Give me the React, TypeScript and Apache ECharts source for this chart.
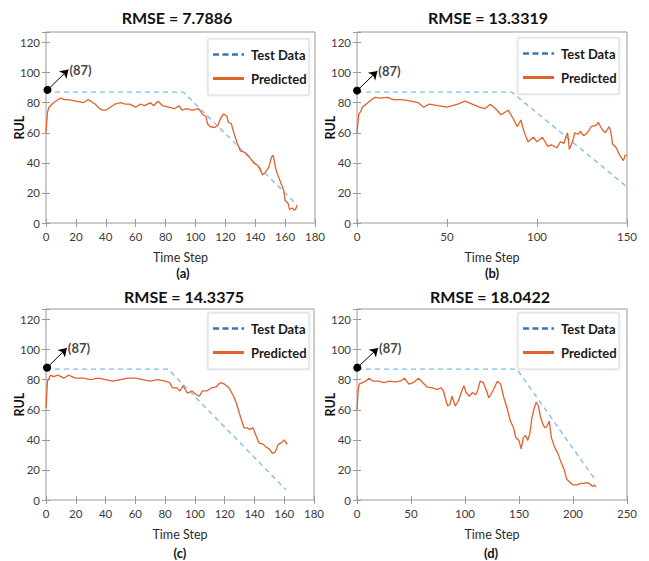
import React, { useEffect, useRef } from "react";
import * as echarts from "echarts";

// ---------- data ----------
const titles = ["RMSE = 7.7886", "RMSE = 13.3319", "RMSE = 14.3375", "RMSE = 18.0422"];
const panelLetters = ["(a)", "(b)", "(c)", "(d)"];
const xMaxes = [180, 150, 180, 250];
const xIntervals = [20, 50, 20, 50];
const yMin = 0;
const yMax = 127;
const yInterval = 20;
const legendNames = ["Test Data", "Predicted"];
const annotationText = "(87)";
const annotationStart = [[1, 88.5], [0, 88], [0.7, 88], [0.3, 88]];
const annotationEnd = [[15, 102], [11.3, 101], [14, 101], [19.5, 101]];

const testA = [[0, 87], [92, 87], [167, 13]];
const testB = [[0, 87], [86, 87], [150, 24]];
const testC = [[0, 87], [82, 87], [161, 7]];
const testD = [[0, 87], [148, 87], [221, 13]];

const predA = [
  [0, 60], [1, 73.6], [2, 77], [5, 80], [8, 82], [10, 83], [12, 82], [15, 82], [20, 81], [25, 80],
  [28, 82], [30, 81], [33, 79], [36, 76], [38, 75], [40, 75], [43, 77], [46, 79], [50, 80], [53, 79],
  [56, 79], [60, 77], [63, 79], [66, 78], [70, 80], [72, 78], [75, 81], [78, 78], [82, 77], [86, 76],
  [89, 78], [91, 75], [94, 76], [98, 75], [102, 76], [105, 72], [107, 71], [108, 66], [110, 64], [113, 63.5],
  [115, 65], [117, 70], [119, 72.5], [121, 71], [122, 67], [124, 66], [126, 59], [128, 53], [130, 48], [133, 47],
  [136, 44], [139, 40], [142, 38], [145, 32], [147, 34], [149, 37], [151, 44], [152, 45], [154, 35], [157, 27],
  [159, 22], [160, 15], [162, 13], [163, 9], [165, 10], [166, 8.5], [167, 9], [168, 12],
];

const predB = [
  [0, 60], [1, 72.5], [2, 74], [3, 77], [5, 79], [8, 82], [10, 83.5], [13, 83], [17, 83.5], [20, 82],
  [25, 82], [30, 81], [34, 80], [37, 77], [40, 79], [45, 78], [50, 77], [53, 78], [56, 79], [60, 81],
  [64, 79], [68, 77], [71, 76], [74, 79], [77, 76], [80, 72], [84, 75], [87, 69], [89, 64], [91, 68.5],
  [93, 60], [95, 54], [98, 57], [100, 54], [103, 57], [106, 51], [108, 52], [111, 50], [113, 54], [115, 53],
  [116, 57], [117, 60], [118, 49], [120, 55], [121, 60], [123, 59], [124, 61], [126, 58], [128, 60], [130, 64],
  [133, 65], [134, 67], [136, 62.5], [138, 60], [140, 64], [141, 61], [142, 52.5], [144, 50], [146, 45], [148, 41.5],
  [149, 45], [150, 45],
];

const predC = [
  [0, 61], [1, 79], [3, 83], [5, 82], [8, 83], [12, 81], [15, 83], [20, 81], [25, 81], [30, 80],
  [35, 81], [40, 80], [45, 79], [50, 80], [55, 81], [60, 81], [65, 80], [70, 79], [75, 80], [80, 79],
  [83, 78], [85, 74.5], [88, 74.5], [90, 72.5], [92, 76], [95, 71], [98, 72.5], [101, 70], [103, 69], [105, 72.5],
  [108, 72.5], [111, 74.5], [114, 75], [117, 78], [120, 77], [123, 74.5], [126, 69], [128, 64], [131, 54], [133, 48],
  [135, 48], [137, 47], [139, 48], [141, 43], [143, 38], [146, 37], [148, 35], [150, 34], [152, 31], [154, 32],
  [156, 37], [158, 38], [160, 40], [162, 37],
];

const predD = [
  [0, 60], [1, 72], [2, 77], [5, 78], [8, 79], [11, 81], [15, 79], [20, 79], [25, 78], [30, 79],
  [35, 78.5], [40, 79], [44, 81], [48, 77], [52, 78], [57, 81], [61, 78], [65, 75], [70, 74.5], [74, 73.5],
  [78, 74.5], [80, 72.5], [82, 67], [84, 62.5], [86, 63.5], [88, 69], [91, 62.5], [94, 66], [97, 72.5], [99, 76],
  [101, 71.5], [104, 69], [107, 71.5], [110, 70], [112, 73.5], [114, 79], [117, 78], [120, 72.5], [122, 68], [125, 71.5],
  [128, 76], [130, 79], [133, 77], [136, 68], [139, 61], [142, 52.5], [145, 48], [147, 41.5], [150, 39.5], [152, 34],
  [154, 41.5], [156, 43], [158, 39.5], [160, 44], [162, 55], [164, 61], [166, 65], [168, 62.5], [170, 55], [172, 50.5],
  [174, 48], [176, 49], [178, 52.5], [180, 41.5], [183, 35], [186, 31], [189, 25], [192, 20], [194, 14], [197, 12],
  [200, 10], [204, 10], [207, 11], [210, 11], [213, 11.5], [216, 10.5], [218, 9], [220, 10], [221, 8.5],
];

const testSeries = [testA, testB, testC, testD];
const predSeries = [predA, predB, predC, predD];

// ---------- layout / style ----------
const layouts = [
  { left: 46, top: 32, width: 269, height: 191, lx: 208, ly: 39, tx: 177, ty: 17, letterX: 183, letterY: 273 },
  { left: 357, top: 32, width: 270, height: 191, lx: 518, ly: 38, tx: 488, ty: 17, letterX: 492, letterY: 273 },
  { left: 46, top: 309, width: 268, height: 191, lx: 208, ly: 313, tx: 184, ty: 296, letterX: 180, letterY: 553 },
  { left: 357, top: 309, width: 270, height: 191, lx: 518, ly: 313, tx: 490, ty: 296, letterX: 491, letterY: 553 },
];

const FONT = 'Lato, "Open Sans", sans-serif';
const AXIS_GRAY = "#9a9a9a";
const LABEL_GRAY = "#3c3c3c";
const ORANGE = "#e0612b";
const LIGHT_BLUE = "#7dbbe8";

export default function App() {
  const ref = useRef<HTMLDivElement>(null);

  useEffect(() => {
    if (!ref.current) return;
    const chart = echarts.init(ref.current, undefined, { renderer: "svg" });

    const grid: any[] = [];
    const xAxis: any[] = [];
    const yAxis: any[] = [];
    const series: any[] = [];
    const graphic: any[] = [];

    layouts.forEach((L, i) => {
      grid.push({
        left: L.left, top: L.top, width: L.width, height: L.height,
        show: true, borderColor: AXIS_GRAY, borderWidth: 1, backgroundColor: "#fff",
        containLabel: false,
      });
      const tick = { show: true, inside: true, length: 4, lineStyle: { color: AXIS_GRAY, width: 1 } };
      xAxis.push({
        type: "value", gridIndex: i, min: 0, max: xMaxes[i], interval: xIntervals[i],
        axisLine: { show: false }, axisTick: tick, splitLine: { show: false },
        axisLabel: { color: LABEL_GRAY, fontSize: 11.5, fontFamily: FONT, margin: 7 },
        name: "Time Step", nameLocation: "middle", nameGap: 28, nameMoveOverlap: false,
        nameTextStyle: { color: "#2a2a2a", fontSize: 12.5, fontFamily: FONT },
      });
      xAxis.push({
        type: "value", gridIndex: i, position: "top", min: 0, max: xMaxes[i], interval: xIntervals[i],
        axisLine: { show: false }, axisTick: tick, splitLine: { show: false }, axisLabel: { show: false },
      });
      yAxis.push({
        type: "value", gridIndex: i, min: yMin, max: yMax, interval: yInterval,
        axisLine: { show: false }, axisTick: tick, splitLine: { show: false },
        axisLabel: {
          color: LABEL_GRAY, fontSize: 11.5, fontFamily: FONT, margin: 6,
          formatter: (v: number) => (v % yInterval === 0 ? String(v) : ""),
        },
        name: "RUL", nameLocation: "middle", nameGap: 20, nameMoveOverlap: false,
        nameTextStyle: { color: "#111", fontSize: 12.5, fontWeight: "bold", fontFamily: FONT },
      });
      yAxis.push({
        type: "value", gridIndex: i, position: "right", min: yMin, max: yMax, interval: yInterval,
        axisLine: { show: false }, axisTick: tick, splitLine: { show: false }, axisLabel: { show: false },
      });

      series.push({
        name: legendNames[0], type: "line", xAxisIndex: 2 * i, yAxisIndex: 2 * i,
        data: testSeries[i], showSymbol: false, symbol: "none", z: 2,
        lineStyle: { color: LIGHT_BLUE, width: 1.3, type: [5, 4] },
      });
      series.push({
        name: legendNames[1], type: "line", xAxisIndex: 2 * i, yAxisIndex: 2 * i,
        data: predSeries[i], showSymbol: false, symbol: "none", z: 3,
        lineStyle: { color: ORANGE, width: 1.3 },
        markLine: {
          silent: true, animation: false,
          symbol: ["circle", "arrow"], symbolSize: [8, 8],
          lineStyle: { color: "#000", width: 1, type: "solid" },
          itemStyle: { color: "#000" },
          label: { show: false },
          data: [[{ coord: annotationStart[i] }, { coord: annotationEnd[i] }]],
        },
      });
      series.push({
        type: "scatter", xAxisIndex: 2 * i, yAxisIndex: 2 * i,
        data: [annotationEnd[i]], symbolSize: 0, silent: true, z: 5,
        label: {
          show: true, position: "right", distance: 1, formatter: annotationText,
          color: "#111", fontWeight: 700, fontSize: 13, fontFamily: FONT,
        },
      });

      // title
      graphic.push({
        type: "text", x: L.tx, y: L.ty, z: 10,
        style: { text: titles[i], font: `bold 16px ${FONT}`, fill: "#111", align: "center", verticalAlign: "middle" },
      });
      // panel letter
      graphic.push({
        type: "text", x: L.letterX, y: L.letterY, z: 10,
        style: { text: panelLetters[i], font: `bold 13px ${FONT}`, fill: "#111", align: "center", verticalAlign: "middle" },
      });
      // legend
      graphic.push({
        type: "rect", z: 10,
        shape: { x: L.lx, y: L.ly, width: 101, height: 56 },
        style: { fill: "#fff", stroke: "#d4d8de", lineWidth: 1, shadowBlur: 3, shadowColor: "rgba(0,0,0,0.12)" },
      });
      graphic.push({
        type: "line", z: 11,
        shape: { x1: L.lx + 5, y1: L.ly + 15.5, x2: L.lx + 36, y2: L.ly + 15.5 },
        style: { stroke: "#3b74b3", lineWidth: 2.5, lineDash: [6, 3.5] },
      });
      graphic.push({
        type: "line", z: 11,
        shape: { x1: L.lx + 5, y1: L.ly + 39.5, x2: L.lx + 36, y2: L.ly + 39.5 },
        style: { stroke: ORANGE, lineWidth: 3 },
      });
      graphic.push({
        type: "text", x: L.lx + 43, y: L.ly + 15.5, z: 11,
        style: { text: legendNames[0], font: `bold 13px ${FONT}`, fill: "#1a1a1a", align: "left", verticalAlign: "middle" },
      });
      graphic.push({
        type: "text", x: L.lx + 43, y: L.ly + 39.5, z: 11,
        style: { text: legendNames[1], font: `bold 13px ${FONT}`, fill: "#1a1a1a", align: "left", verticalAlign: "middle" },
      });
    });

    chart.setOption({
      animation: false,
      backgroundColor: "#fff",
      grid, xAxis, yAxis, series, graphic,
    });

    return () => chart.dispose();
  }, []);

  return (
    <div
      ref={ref}
      style={{ position: "absolute", left: 0, top: 0, width: 649, height: 561 }}
    />
  );
}
